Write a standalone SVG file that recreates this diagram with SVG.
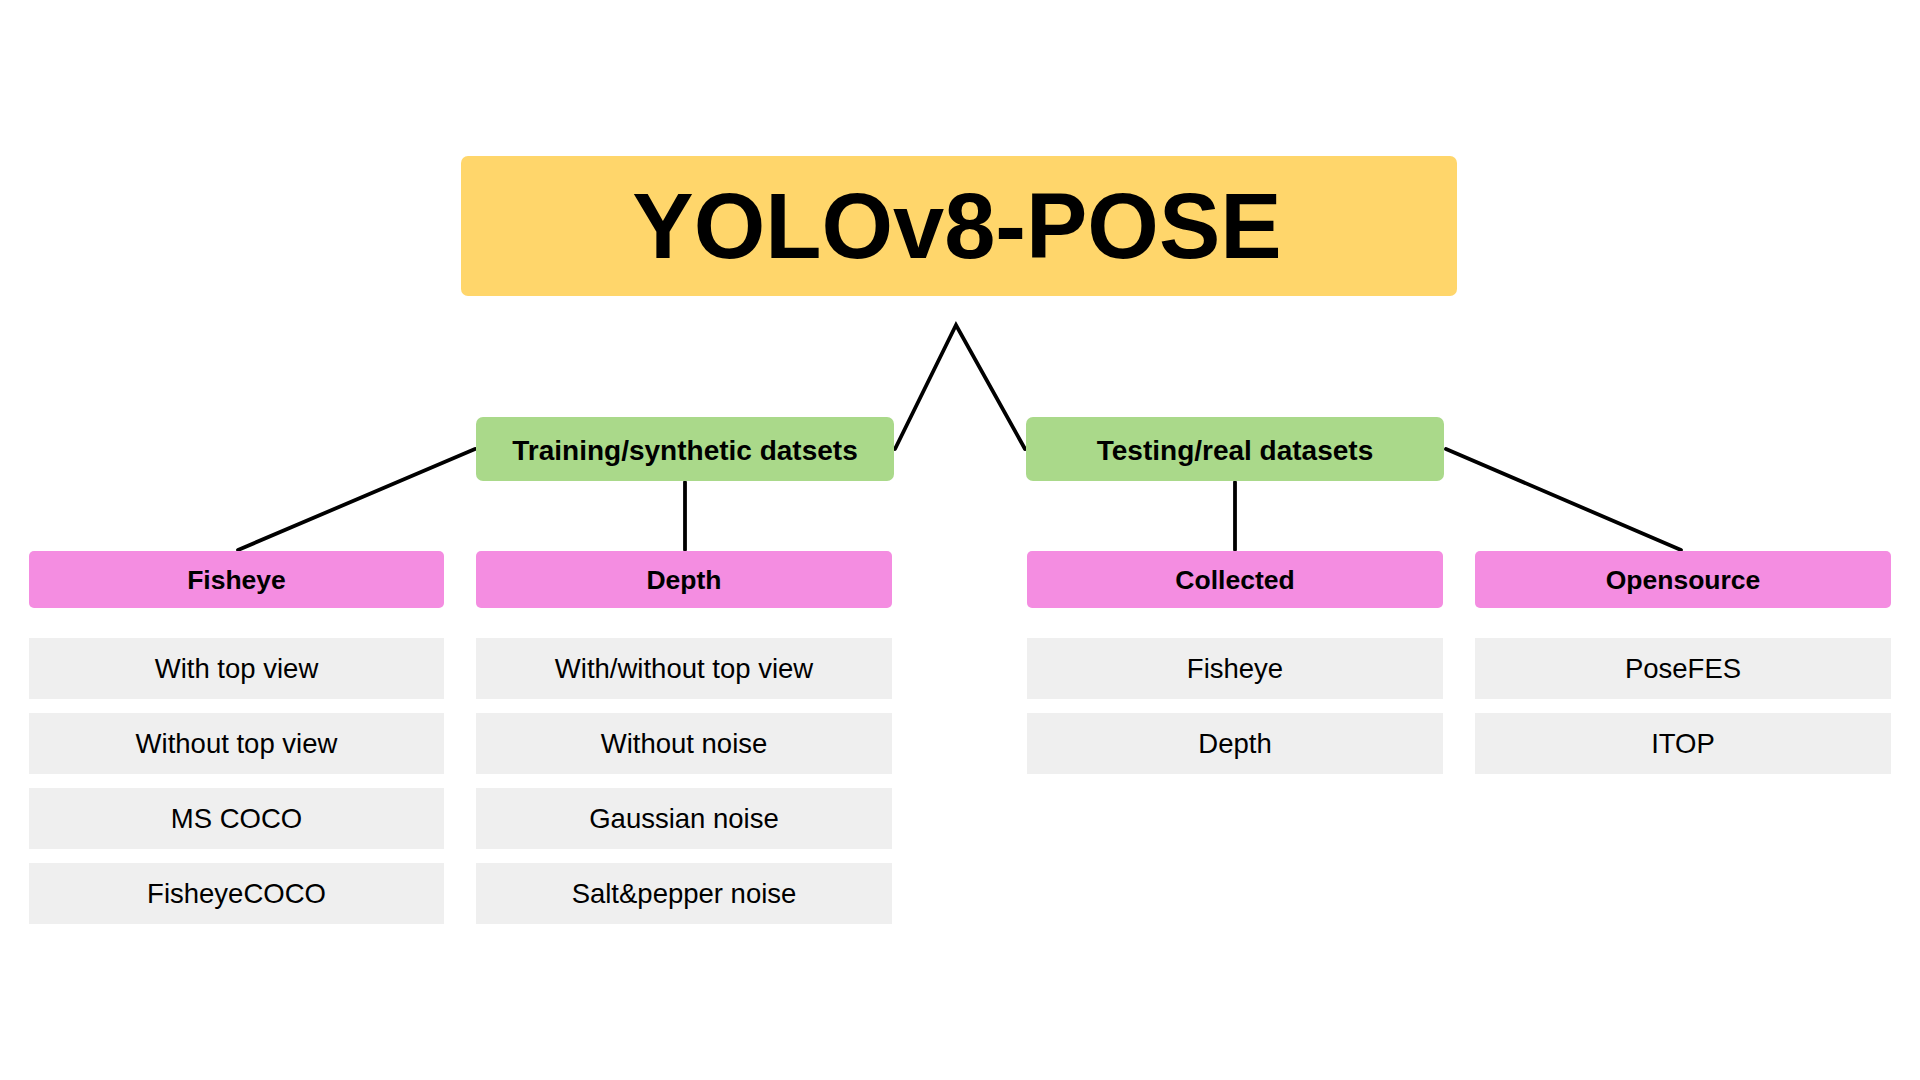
<svg xmlns="http://www.w3.org/2000/svg" width="1920" height="1080" viewBox="0 0 1920 1080">
<style>
.title{fill:#FFD66B}
.cat{fill:#AAD98A}
.sub{fill:#F48DE1}
.item{fill:#EFEFEF}
.t{font-family:"Liberation Sans",Arial,sans-serif;fill:#000;text-anchor:middle}
.tt{font-size:92px;font-weight:bold}
.tc{font-size:28px;font-weight:bold}
.ts{font-size:26.5px;font-weight:bold}
.ti{font-size:27.5px}
.conn{stroke:#000;stroke-width:3.8;fill:none;stroke-linecap:round;stroke-linejoin:miter}
</style>
<rect width="1920" height="1080" fill="#fff"/>
<g id="connectors">
<polyline class="conn" points="895,449 956,325 1025,449"/>
<line class="conn" x1="475" y1="449" x2="238" y2="550"/>
<line class="conn" x1="685" y1="482" x2="685" y2="550"/>
<line class="conn" x1="1235" y1="482" x2="1235" y2="550"/>
<line class="conn" x1="1446" y1="449" x2="1681" y2="550"/>
</g>
<g id="node-yolo"><rect class="title" x="461" y="156" width="996" height="140" rx="7"/><text class="t tt" x="957" y="258">YOLOv8-POSE</text></g>
<g id="node-training"><rect class="cat" x="476" y="417" width="418" height="64" rx="7"/><text class="t tc" x="685" y="460">Training/synthetic datsets</text></g>
<g id="node-testing"><rect class="cat" x="1026" y="417" width="418" height="64" rx="7"/><text class="t tc" x="1235" y="460">Testing/real datasets</text></g>
<g id="node-fisheye"><rect class="sub" x="29" y="551" width="415" height="57" rx="5"/><text class="t ts" x="236.5" y="589">Fisheye</text></g>
<g id="node-depth"><rect class="sub" x="476" y="551" width="416" height="57" rx="5"/><text class="t ts" x="684" y="589">Depth</text></g>
<g id="node-collected"><rect class="sub" x="1027" y="551" width="416" height="57" rx="5"/><text class="t ts" x="1235" y="589">Collected</text></g>
<g id="node-opensource"><rect class="sub" x="1475" y="551" width="416" height="57" rx="5"/><text class="t ts" x="1683" y="589">Opensource</text></g>
<g id="node-f1"><rect class="item" x="29" y="638" width="415" height="61"/><text class="t ti" x="236.5" y="678">With top view</text></g>
<g id="node-f2"><rect class="item" x="29" y="713" width="415" height="61"/><text class="t ti" x="236.5" y="753">Without top view</text></g>
<g id="node-f3"><rect class="item" x="29" y="788" width="415" height="61"/><text class="t ti" x="236.5" y="828">MS COCO</text></g>
<g id="node-f4"><rect class="item" x="29" y="863" width="415" height="61"/><text class="t ti" x="236.5" y="903">FisheyeCOCO</text></g>
<g id="node-d1"><rect class="item" x="476" y="638" width="416" height="61"/><text class="t ti" x="684" y="678">With/without top view</text></g>
<g id="node-d2"><rect class="item" x="476" y="713" width="416" height="61"/><text class="t ti" x="684" y="753">Without noise</text></g>
<g id="node-d3"><rect class="item" x="476" y="788" width="416" height="61"/><text class="t ti" x="684" y="828">Gaussian noise</text></g>
<g id="node-d4"><rect class="item" x="476" y="863" width="416" height="61"/><text class="t ti" x="684" y="903">Salt&amp;pepper noise</text></g>
<g id="node-c1"><rect class="item" x="1027" y="638" width="416" height="61"/><text class="t ti" x="1235" y="678">Fisheye</text></g>
<g id="node-c2"><rect class="item" x="1027" y="713" width="416" height="61"/><text class="t ti" x="1235" y="753">Depth</text></g>
<g id="node-o1"><rect class="item" x="1475" y="638" width="416" height="61"/><text class="t ti" x="1683" y="678">PoseFES</text></g>
<g id="node-o2"><rect class="item" x="1475" y="713" width="416" height="61"/><text class="t ti" x="1683" y="753">ITOP</text></g>
</svg>
